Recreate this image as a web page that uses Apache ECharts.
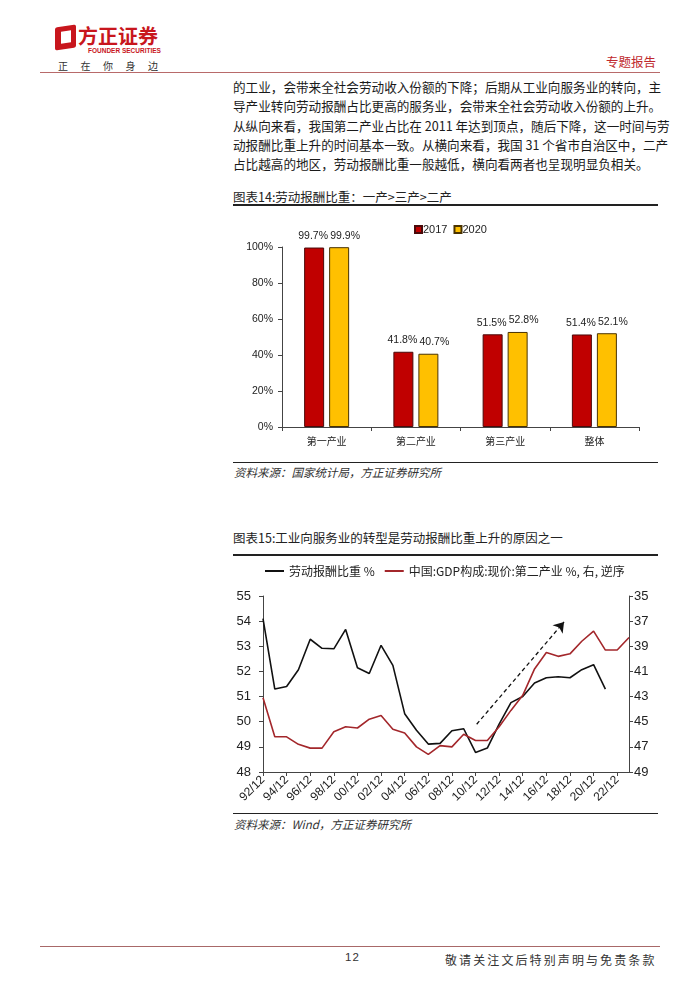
<!DOCTYPE html>
<html>
<head>
<meta charset="utf-8">
<script src="https://cdn.jsdelivr.net/npm/echarts@6/dist/echarts.min.js"></script>
<style>
  html, body { margin:0; padding:0; background:#fff; }
  #page { position:relative; width:700px; height:990px; overflow:hidden; background:#fff;
          font-family:"Noto Sans CJK SC","Liberation Sans",sans-serif; color:#222; }
  .abs { position:absolute; white-space:nowrap; }
  .para { position:absolute; left:233px; width:425px; font-size:12.6px; line-height:16px; color:#1a1a1a;
          text-align:justify; text-align-last:justify; white-space:nowrap; }
  .para.last { text-align-last:left; }
  .rule { position:absolute; left:233px; width:425px; background:#222; }
  .ttl { position:absolute; left:233px; font-size:12.5px; color:#222; }
  .src { position:absolute; left:234px; font-size:11.5px; color:#333; font-style:italic; }
</style>
</head>
<body>
<div id="page">
  <!-- header -->
  <div class="abs" style="left:55px;top:26px;width:21px;height:23px;background:#c8161d;border-radius:2px;transform:skewY(-8deg);"></div>
  <div class="abs" style="left:61px;top:31px;width:10px;height:12px;background:#fff;transform:skewY(-8deg);"></div>
  <div class="abs" style="left:78px;top:21px;font-size:20px;font-weight:bold;color:#c8161d;letter-spacing:0px;">方正证券</div>
  <div class="abs" style="left:88px;top:47px;font-size:6.5px;font-weight:bold;color:#c8161d;font-family:'Liberation Sans';">FOUNDER SECURITIES</div>
  <div class="abs" style="left:58px;top:58px;font-size:10px;color:#333;letter-spacing:12.5px;">正在你身边</div>
  <div class="abs" style="left:606px;top:52px;font-size:12.5px;color:#c0282d;">专题报告</div>
  <div class="abs" style="left:40px;top:72px;width:620px;height:1px;background:#b86a6a;"></div>

  <!-- paragraph -->
  <div class="para" style="top:79px;">的工业，会带来全社会劳动收入份额的下降；后期从工业向服务业的转向，主</div>
  <div class="para" style="top:98px;">导产业转向劳动报酬占比更高的服务业，会带来全社会劳动收入份额的上升。</div>
  <div class="para" style="top:118px;">从纵向来看，我国第二产业占比在 2011 年达到顶点，随后下降，这一时间与劳</div>
  <div class="para" style="top:137px;">动报酬比重上升的时间基本一致。从横向来看，我国 31 个省市自治区中，二产</div>
  <div class="para last" style="top:156px;">占比越高的地区，劳动报酬比重一般越低，横向看两者也呈现明显负相关。</div>

  <!-- figure 14 -->
  <div class="ttl" style="top:187px;">图表14:劳动报酬比重：一产>三产>二产</div>
  <div class="rule" style="top:204px;height:2px;"></div>
  <div id="c1" class="abs" style="left:220px;top:215px;width:450px;height:245px;"></div>
  <div class="rule" style="top:462px;height:1px;"></div>
  <div class="src" style="top:464px;">资料来源：国家统计局，方正证券研究所</div>

  <!-- figure 15 -->
  <div class="ttl" style="top:528px;">图表15:工业向服务业的转型是劳动报酬比重上升的原因之一</div>
  <div class="rule" style="top:554px;height:2px;"></div>
  <div id="c2" class="abs" style="left:220px;top:560px;width:450px;height:252px;"></div>
  <div class="rule" style="top:813px;height:1px;"></div>
  <div class="src" style="top:816px;">资料来源：Wind，方正证券研究所</div>

  <!-- footer -->
  <div class="abs" style="left:40px;top:946px;width:620px;height:1px;background:#a86868;"></div>
  <div class="abs" style="left:345px;top:951px;font-size:11.5px;color:#333;font-family:'Liberation Sans';letter-spacing:1px;">12</div>
  <div class="abs" style="left:445px;top:951px;font-size:12px;color:#333;letter-spacing:2.1px;">敬请关注文后特别声明与免责条款</div>
</div>

<script>
// ---------- data: figure 14 ----------
const barCategories = ['第一产业', '第二产业', '第三产业', '整体'];
const bar2017 = [99.7, 41.8, 51.5, 51.4];
const bar2020 = [99.9, 40.7, 52.8, 52.1];
const barSeriesNames = ['2017', '2020'];
const barYTicks = [0, 20, 40, 60, 80, 100];

// ---------- data: figure 15 ----------
const years = [1992,1993,1994,1995,1996,1997,1998,1999,2000,2001,2002,2003,2004,2005,2006,2007,
               2008,2009,2010,2011,2012,2013,2014,2015,2016,2017,2018,2019,2020,2021,2022,2023];
const laborShare = [54.1,51.3,51.4,52.07,53.28,52.92,52.9,53.67,52.15,51.92,53.04,52.24,50.32,49.66,49.11,49.14,
                    49.64,49.72,48.78,48.95,49.9,50.76,51.0,51.54,51.75,51.79,51.75,52.07,52.27,51.3];
const secondaryShare = [43.1,46.2,46.2,46.8,47.1,47.1,45.8,45.4,45.5,44.8,44.5,45.6,45.9,47.0,47.6,46.9,
                        47.0,46.0,46.5,46.5,45.4,44.1,42.9,40.8,39.5,39.8,39.6,38.6,37.8,39.3,39.3,38.3];
const lineSeriesNames = ['劳动报酬比重 %', '中国:GDP构成:现价:第二产业 %, 右, 逆序'];
const trendArrow = [[2010.1, 49.9], [2017.5, 53.97]]; // annotation, left-axis data space

const numFont = 'Liberation Sans';
const cjkFont = 'Noto Sans CJK SC';

// ---------- chart 1 ----------
const c1 = echarts.init(document.getElementById('c1'), null, {renderer: 'canvas'});
c1.setOption({
  animation: false,
  grid: {left: 62, right: 31, top: 32, bottom: 33, containLabel: false},
  legend: {
    data: barSeriesNames, top: 9, left: 194, itemWidth: 7, itemHeight: 7, itemGap: 6, padding: 0,
    icon: 'rect',
    textStyle: {fontFamily: numFont, fontSize: 11, color: '#222', padding: [0, 0, 0, -4]}
  },
  xAxis: {
    type: 'category', data: barCategories,
    axisLine: {lineStyle: {color: '#444', width: 1}},
    axisTick: {show: true, length: 4, lineStyle: {color: '#444'}},
    axisLabel: {fontFamily: cjkFont, fontSize: 10, color: '#222', margin: 9}
  },
  yAxis: {
    type: 'value', min: barYTicks[0], max: barYTicks[barYTicks.length - 1], interval: 20,
    axisLine: {show: true, lineStyle: {color: '#444'}},
    axisTick: {show: true, length: 4, lineStyle: {color: '#444'}},
    splitLine: {show: false},
    axisLabel: {formatter: '{value}%', fontFamily: numFont, fontSize: 10.5, color: '#222', margin: 9}
  },
  series: [
    {name: barSeriesNames[0], type: 'bar', data: bar2017, barWidth: 20, barGap: '25%',
     itemStyle: {color: '#c00000', borderColor: '#4a0a0a', borderWidth: 1},
     label: {show: true, position: 'top', distance: 6, offset: [-1, 0], formatter: '{c}%',
             fontFamily: numFont, fontSize: 10.5, color: '#222'}},
    {name: barSeriesNames[1], type: 'bar', data: bar2020, barWidth: 20,
     itemStyle: {color: '#ffc000', borderColor: '#4a3300', borderWidth: 1},
     label: {show: true, position: 'top', distance: 6, offset: [6, 0], formatter: '{c}%',
             fontFamily: numFont, fontSize: 10.5, color: '#222'}}
  ]
});

// ---------- chart 2 ----------
const c2 = echarts.init(document.getElementById('c2'), null, {renderer: 'canvas'});
const laborData = laborShare.map((v, i) => [years[i], v]);
const secData = secondaryShare.map((v, i) => [years[i], v]);
c2.setOption({
  animation: false,
  grid: {left: 43, right: 41, top: 36, bottom: 40, containLabel: false},
  legend: {
    data: lineSeriesNames, top: 5, left: 45, itemWidth: 19, itemHeight: 2, itemGap: 10, padding: 0,
    icon: 'rect',
    textStyle: {fontFamily: cjkFont, fontSize: 12, color: '#222'}
  },
  xAxis: {
    type: 'value', min: years[0], max: years[years.length - 1], interval: 2,
    axisLine: {onZero: false, lineStyle: {color: '#444'}},
    axisTick: {show: true, length: 4, lineStyle: {color: '#444'}},
    splitLine: {show: false},
    axisLabel: {
      rotate: 45, fontFamily: numFont, fontSize: 12, color: '#222', margin: 6,
      showMaxLabel: false,
      formatter: v => (v % 2 === 0 ? String(v).slice(2) + '/12' : '')
    }
  },
  yAxis: [
    {type: 'value', min: 48, max: 55, interval: 1, position: 'left',
     axisLine: {show: true, onZero: false, lineStyle: {color: '#444'}},
     axisTick: {show: true, length: 4, lineStyle: {color: '#444'}},
     splitLine: {show: false},
     axisLabel: {fontFamily: numFont, fontSize: 13, color: '#222', margin: 12}},
    {type: 'value', min: 35, max: 49, interval: 2, inverse: true, position: 'right',
     axisLine: {show: true, onZero: false, lineStyle: {color: '#444'}},
     axisTick: {show: true, length: 4, lineStyle: {color: '#444'}},
     splitLine: {show: false},
     axisLabel: {fontFamily: numFont, fontSize: 13, color: '#222', margin: 5}}
  ],
  series: [
    {name: lineSeriesNames[0], type: 'line', yAxisIndex: 0, data: laborData, symbol: 'none',
     lineStyle: {color: '#111', width: 1.6}, itemStyle: {color: '#111'},
     markLine: {
       silent: true, symbol: ['none', 'arrow'], symbolSize: 10,
       label: {show: false},
       lineStyle: {type: [4, 3], color: '#111', width: 1.3},
       data: [[{coord: trendArrow[0]}, {coord: trendArrow[1]}]]
     }},
    {name: lineSeriesNames[1], type: 'line', yAxisIndex: 1, data: secData, symbol: 'none',
     lineStyle: {color: '#a3272b', width: 1.6}, itemStyle: {color: '#a3272b'}}
  ]
});
</script>
</body>
</html>
